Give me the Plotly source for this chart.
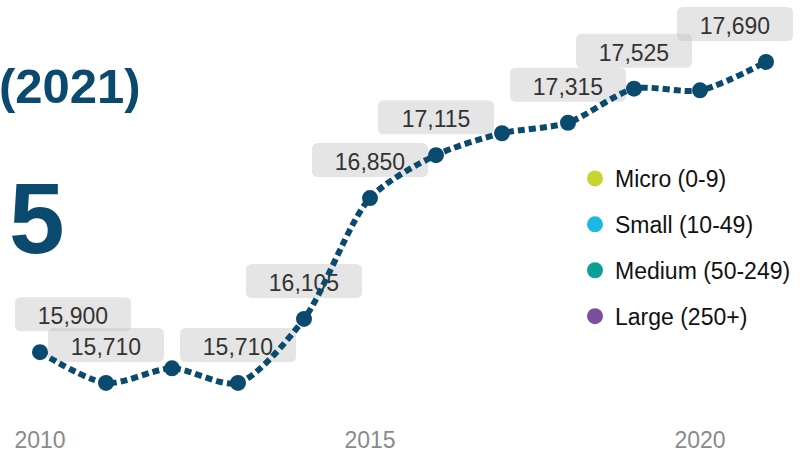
import plotly.graph_objects as go

# ---- data ----
years = [2010, 2011, 2012, 2013, 2014, 2015, 2016, 2017, 2018, 2019, 2020, 2021]
values = [15900, 15710, 15800, 15710, 16105, 16850, 17115, 17250, 17315, 17525, 17515, 17690]
labeled_years = [2010, 2011, 2013, 2014, 2015, 2016, 2018, 2019, 2021]
x_tick_values = [2010, 2015, 2020]
legend_names = ["Micro (0-9)", "Small (10-49)", "Medium (50-249)", "Large (250+)"]
legend_colors = ["#c6d530", "#1db8e2", "#0a9f97", "#7c4f9c"]
title_text = "(2021)"
kpi_text = "5"

# ---- style ----
W, H = 806, 462
MB = 40
LINE_COLOR = "#0b4a6f"
FONT = "Liberation Sans, Arial, sans-serif"
X_RANGE = [2009.394, 2021.606]
Y_RANGE = [15469, 18072]

fig = go.Figure()

fig.add_trace(go.Scatter(
    x=years, y=values, mode="lines+markers",
    line=dict(color=LINE_COLOR, width=6, dash="7px,4px", shape="spline", smoothing=0.8),
    marker=dict(size=16, color=LINE_COLOR),
    hoverinfo="skip", showlegend=False,
))

for name, col in zip(legend_names, legend_colors):
    fig.add_trace(go.Scatter(
        x=[None], y=[None], mode="markers", name=name, legendgroup=name,
        marker=dict(size=16, color=col), showlegend=True,
    ))


def rrect(x0, x1, y0, y1, r):
    return (f"M{x0 + r},{y0} L{x1 - r},{y0} Q{x1},{y0} {x1},{y0 + r} "
            f"L{x1},{y1 - r} Q{x1},{y1} {x1 - r},{y1} L{x0 + r},{y1} "
            f"Q{x0},{y1} {x0},{y1 - r} L{x0},{y0 + r} Q{x0},{y0} {x0 + r},{y0} Z")


ppy = W / (X_RANGE[1] - X_RANGE[0])
half = 58
shapes = []
for yr, v in zip(years, values):
    if yr not in labeled_years:
        continue
    px = (yr - X_RANGE[0]) * ppy
    shift = 0
    if px - half < 15:
        shift = 15 - (px - half)
    if px + half > W - 13:
        shift = (W - 13) - (px + half)
    x0, x1 = -half + shift, half + shift
    shapes.append(dict(
        type="path", xref="x", yref="y", xsizemode="pixel", ysizemode="pixel",
        xanchor=yr, yanchor=v, path=rrect(x0, x1, 21, 55, 6),
        fillcolor="rgba(190,190,190,0.4)", line=dict(width=0), layer="below",
        label=dict(text=f"{v:,}", font=dict(family=FONT, size=23, color="#333333"),
                   textposition="middle center"),
    ))

fig.update_layout(
    width=W, height=H,
    margin=dict(l=0, r=0, t=0, b=MB),
    paper_bgcolor="white", plot_bgcolor="white",
    font=dict(family=FONT),
    shapes=shapes,
    showlegend=True,
    legend=dict(x=575 / W, y=1 - 157 / (H - MB), xanchor="left", yanchor="top",
                font=dict(family=FONT, size=23, color="#111111"),
                tracegroupgap=13, itemwidth=30, bgcolor="rgba(0,0,0,0)"),
    xaxis=dict(range=X_RANGE, tickvals=x_tick_values, showgrid=False, zeroline=False,
               showline=False, ticks="", ticklabelstandoff=2,
               tickfont=dict(family=FONT, size=23, color="#8a8a8a"), fixedrange=True),
    yaxis=dict(range=Y_RANGE, visible=False, fixedrange=True),
    annotations=[
        dict(text=f"<b>{title_text}</b>", xref="paper", yref="paper",
             x=143 / W, y=1 - 86 / (H - MB), xanchor="right", yanchor="middle",
             showarrow=False, font=dict(family=FONT, size=49, color=LINE_COLOR)),
        dict(text=f"<b>{kpi_text}</b>", xref="paper", yref="paper",
             x=67 / W, y=1 - 218 / (H - MB), xanchor="right", yanchor="middle",
             showarrow=False, font=dict(family=FONT, size=100, color=LINE_COLOR)),
    ],
)

fig.write_html("out.html", config={"displayModeBar": False},
               post_script="document.body.style.margin='0';")
